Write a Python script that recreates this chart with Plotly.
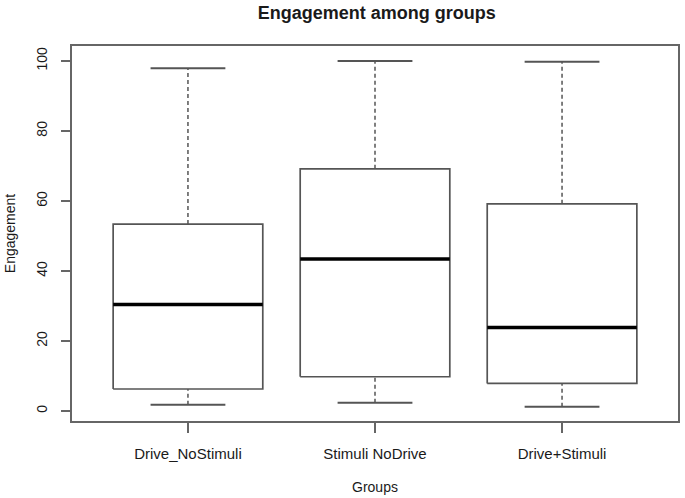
import plotly.graph_objects as go

groups = ["Drive_NoStimuli", "Stimuli NoDrive", "Drive+Stimuli"]
lower = [1.8, 2.4, 1.2]
q1 = [6.3, 9.8, 7.9]
median = [30.4, 43.4, 23.9]
q3 = [53.4, 69.2, 59.2]
upper = [97.9, 100.0, 99.8]
y_ticks = [0, 20, 40, 60, 80, 100]

BOX_HALF = 0.4
CAP_HALF = 0.2
LINE_COL = "#555555"
TEXT_COL = "#1a1a1a"
FONT = "Liberation Sans, Arial, sans-serif"

pos = list(range(1, len(groups) + 1))

bx, by, mx, my, wx, wy, cx, cy = [], [], [], [], [], [], [], []
for c, lo, a, m, b, hi in zip(pos, lower, q1, median, q3, upper):
    bx += [c - BOX_HALF, c + BOX_HALF, c + BOX_HALF, c - BOX_HALF, c - BOX_HALF, None]
    by += [a, a, b, b, a, None]
    mx += [c - BOX_HALF, c + BOX_HALF, None]
    my += [m, m, None]
    wx += [c, c, None, c, c, None]
    wy += [lo, a, None, b, hi, None]
    cx += [c - CAP_HALF, c + CAP_HALF, None, c - CAP_HALF, c + CAP_HALF, None]
    cy += [lo, lo, None, hi, hi, None]

fig = go.Figure()
fig.add_trace(go.Scatter(x=wx, y=wy, mode="lines", hoverinfo="skip",
                         line=dict(color=LINE_COL, width=1.5, dash="4px,3px")))
fig.add_trace(go.Scatter(x=cx, y=cy, mode="lines", hoverinfo="skip",
                         line=dict(color=LINE_COL, width=2)))
fig.add_trace(go.Scatter(x=bx, y=by, mode="lines", hoverinfo="skip",
                         line=dict(color=LINE_COL, width=1.7)))
fig.add_trace(go.Scatter(x=mx, y=my, mode="lines", hoverinfo="skip",
                         line=dict(color="#000000", width=3.5)))

fig.update_layout(
    width=685, height=498,
    margin=dict(l=72, r=5, t=46, b=76),
    paper_bgcolor="white", plot_bgcolor="white",
    showlegend=False,
    font=dict(family=FONT, color=TEXT_COL, size=14),
    title=dict(text="<b>Engagement among groups</b>", x=0.55, xanchor="center",
               y=0.975, yanchor="middle", font=dict(size=18, family=FONT, color=TEXT_COL)),
)
fig.update_xaxes(
    range=[0.38, 3.62], tickmode="array", tickvals=pos, ticktext=groups,
    showgrid=False, zeroline=False,
    showline=True, linecolor="#666666", linewidth=2, mirror=True,
    ticks="outside", ticklen=10, tickwidth=1.8, tickcolor="#666666",
    ticklabelstandoff=8,
    title=dict(text="Groups", standoff=21, font=dict(size=14)),
    tickfont=dict(size=15),
)
fig.update_yaxes(
    range=[-2.84, 104.27], tickmode="array", tickvals=y_ticks,
    ticktext=[str(v) for v in y_ticks],
    showgrid=False, zeroline=False,
    showline=True, linecolor="#666666", linewidth=2, mirror=True,
    ticks="outside", ticklen=9, tickwidth=1.8, tickcolor="#666666",
    tickangle=-90, ticklabelstandoff=8,
    title=dict(text="Engagement", standoff=16, font=dict(size=14)),
    tickfont=dict(size=14),
)

fig.write_html("out.html")
